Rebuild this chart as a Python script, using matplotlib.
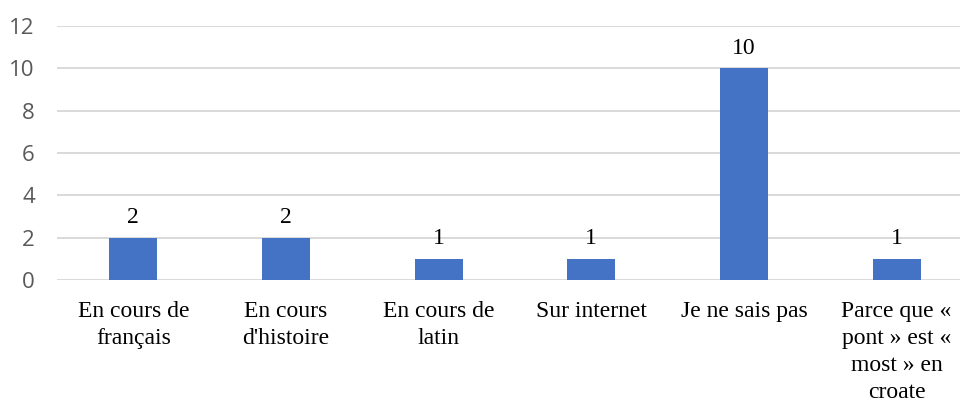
import matplotlib
matplotlib.use("Agg")
import matplotlib.pyplot as plt

categories = [
    "En cours de\nfrançais",
    "En cours\nd'histoire",
    "En cours de\nlatin",
    "Sur internet",
    "Je ne sais pas",
    "Parce que «\npont » est «\nmost » en\ncroate",
]
values = [2, 2, 1, 1, 10, 1]
yticks = [0, 2, 4, 6, 8, 10, 12]

fig = plt.figure(figsize=(9.6, 3.98), dpi=100)
ax = fig.add_axes([57 / 960, 118 / 398, 916 / 960, 254 / 398])

x = list(range(len(categories)))
ax.bar(x, values, width=0.315, color="#4472C4", zorder=3)

for xi, v in zip(x, values):
    ax.annotate(str(v), (xi, v), xytext=(0, 7), textcoords="offset points",
                ha="center", va="bottom", fontsize=17,
                family="Liberation Serif", color="#000000")

ax.set_xlim(-0.5, 5.5)
ax.set_ylim(0, 12)
ax.set_yticks(yticks)
ax.set_yticklabels([str(t) for t in yticks], family="Open Sans",
                   fontsize=16, color="#595959")
ax.set_xticks(x)
ax.set_xticklabels(categories, family="Liberation Serif", fontsize=17,
                   color="#000000", linespacing=1.37, va="top")

ax.tick_params(axis="both", length=0)
ax.tick_params(axis="y", pad=16)
ax.tick_params(axis="x", pad=15)
ax.grid(axis="y", color="#d9d9d9", linewidth=1.4, zorder=0)
ax.set_axisbelow(True)
for s in ax.spines.values():
    s.set_visible(False)

fig.savefig("out.png", dpi=100, facecolor="white")
